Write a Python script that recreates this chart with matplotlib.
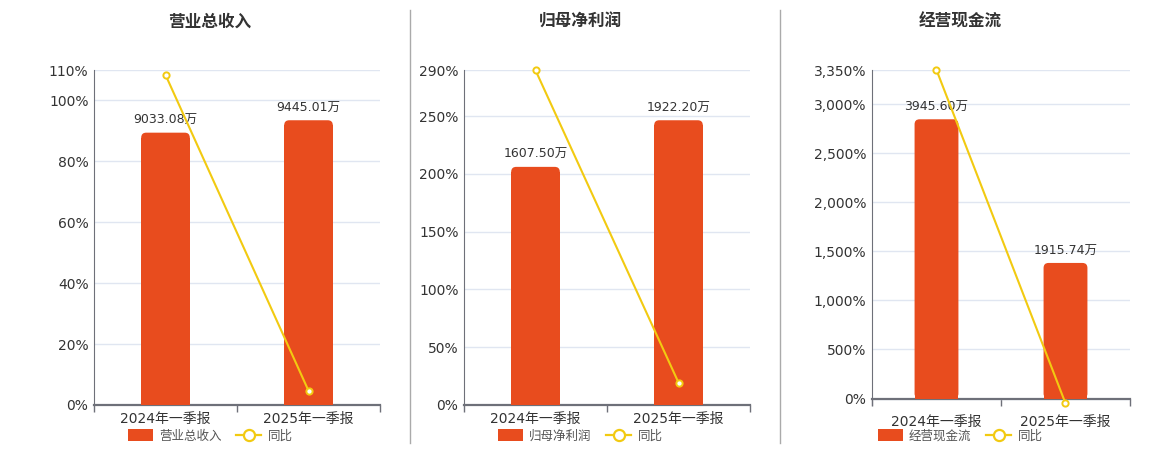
import matplotlib.pyplot as plt
from matplotlib.patches import FancyBboxPatch, Patch
from matplotlib.lines import Line2D

plt.rcParams['font.family'] = ['DejaVu Sans', 'Noto Sans CJK SC']

# data
quarters = ['2024年一季报', '2025年一季报']
titles = ['营业总收入', '归母净利润', '经营现金流']
bar_values = [[9033.08, 9445.01], [1607.50, 1922.20], [3945.60, 1915.74]]
bar_labels = [['9033.08万', '9445.01万'], ['1607.50万', '1922.20万'], ['3945.60万', '1915.74万']]
yoy_values = [[108.4, 4.7], [289.8, 19.4], [3350.0, -49.0]]
yoy_ticks = [[0, 20, 40, 60, 80, 100, 110],
             [0, 50, 100, 150, 200, 250, 290],
             [0, 500, 1000, 1500, 2000, 2500, 3000, 3350]]
yoy_min = [0, 0, -66]

BAR_COLOR = '#E84C1E'
LINE_COLOR = '#F2CA11'
GRID_COLOR = '#E0E6F1'
AXIS_COLOR = '#6E7079'
TEXT_COLOR = '#333333'

W, H = 1160, 450
fig = plt.figure(figsize=(W / 100, H / 100), dpi=100)

# pixel boxes: left, right, top, bottom
boxes = [(94, 380, 70, 405), (464, 750, 70, 405), (872, 1130, 70, 405)]
centers = [210, 580, 960]


def rounded_bars(ax, xs, heights, width, radius_px):
    fig.canvas.draw()
    bbox = ax.get_window_extent()
    x0, x1 = ax.get_xlim()
    y0, y1 = ax.get_ylim()
    xpp = (x1 - x0) / bbox.width
    ypp = (y1 - y0) / bbox.height
    r = radius_px * xpp
    for x, h in zip(xs, heights):
        ax.add_patch(FancyBboxPatch((x - width / 2, 0), width, h,
                                    boxstyle=f'round,pad=0,rounding_size={r}',
                                    mutation_aspect=ypp / xpp,
                                    fc=BAR_COLOR, ec='none', zorder=2))
        ax.add_patch(plt.Rectangle((x - width / 2, 0), width, h - radius_px * ypp,
                                   fc=BAR_COLOR, ec='none', zorder=2))


for i in range(3):
    l, r, t, b = boxes[i]
    ax = fig.add_axes([l / W, 1 - b / H, (r - l) / W, (b - t) / H])
    top = yoy_ticks[i][-1]
    ax.set_ylim(yoy_min[i], top)
    ax.set_xlim(-0.5, 1.5)
    ax.set_yticks(yoy_ticks[i])
    ax.set_yticklabels([f'{v:,}%' for v in yoy_ticks[i]], fontsize=10, color=TEXT_COLOR)
    ax.tick_params(axis='y', length=0, pad=4)
    ax.grid(axis='y', color=GRID_COLOR, linewidth=1)
    ax.set_axisbelow(True)
    for s in ['top', 'right']:
        ax.spines[s].set_visible(False)
    ax.spines['left'].set_color(AXIS_COLOR)
    ax.spines['left'].set_linewidth(0.8)
    ax.spines['bottom'].set_color(AXIS_COLOR)
    ax.spines['bottom'].set_linewidth(1.6)
    ax.spines['bottom'].set_position(('data', 0))
    ax.spines['bottom'].set_zorder(5)

    # category boundaries as ticks, labels in the middle
    ax.set_xticks([-0.5, 0.5, 1.5])
    ax.set_xticklabels([])
    ax.tick_params(axis='x', which='major', length=5, color=AXIS_COLOR, width=1)
    ax.set_xticks([0, 1], minor=True)
    extra = (b - t) * (0 - yoy_min[i]) / (top - yoy_min[i])
    ax.set_xticklabels(quarters, minor=True, fontsize=10, color=TEXT_COLOR)
    ax.tick_params(axis='x', which='minor', length=0, pad=5 + extra)

    # bars on a hidden twin axis
    bx = ax.twinx()
    btop = max(bar_values[i]) / 0.85
    bx.set_ylim(btop * yoy_min[i] / top, btop)
    bx.set_xlim(-0.5, 1.5)
    bx.axis('off')
    rounded_bars(bx, [0, 1], bar_values[i], 0.34, 5)
    for x, v, lab in zip([0, 1], bar_values[i], bar_labels[i]):
        bx.annotate(lab, (x, v), xytext=(0, 4), textcoords='offset points',
                    ha='center', va='bottom', fontsize=9, color=TEXT_COLOR)

    # yoy line on top
    lx = ax.twinx()
    lx.set_ylim(yoy_min[i], top)
    lx.set_xlim(-0.5, 1.5)
    lx.axis('off')
    lx.plot([0, 1], yoy_values[i], color=LINE_COLOR, linewidth=1.5, marker='o',
            markersize=4.5, markerfacecolor='white', markeredgecolor=LINE_COLOR,
            markeredgewidth=1.4, clip_on=False, zorder=4)

    fig.text(centers[i] / W, 1 - 22 / H, titles[i], ha='center', va='center',
             fontsize=12, fontweight='bold', color=TEXT_COLOR)

    handles = [Patch(facecolor=BAR_COLOR, edgecolor='none'),
               Line2D([], [], color=LINE_COLOR, linewidth=1.6, marker='o', markersize=8,
                      markerfacecolor='white', markeredgecolor=LINE_COLOR, markeredgewidth=1.6)]
    fig.legend(handles, [titles[i], '同比'], loc='center', ncol=2, frameon=False,
               bbox_to_anchor=(centers[i] / W, 1 - 436 / H), fontsize=9,
               handlelength=2.0, handleheight=1.1, handletextpad=0.5,
               columnspacing=1.2, labelcolor='#555555')

# panel dividers
for x in [410, 780]:
    fig.add_artist(Line2D([x / W, x / W], [1 - 10 / H, 1 - 443 / H], color='#AAAAAA', linewidth=1))

fig.savefig('out.png', dpi=100)
